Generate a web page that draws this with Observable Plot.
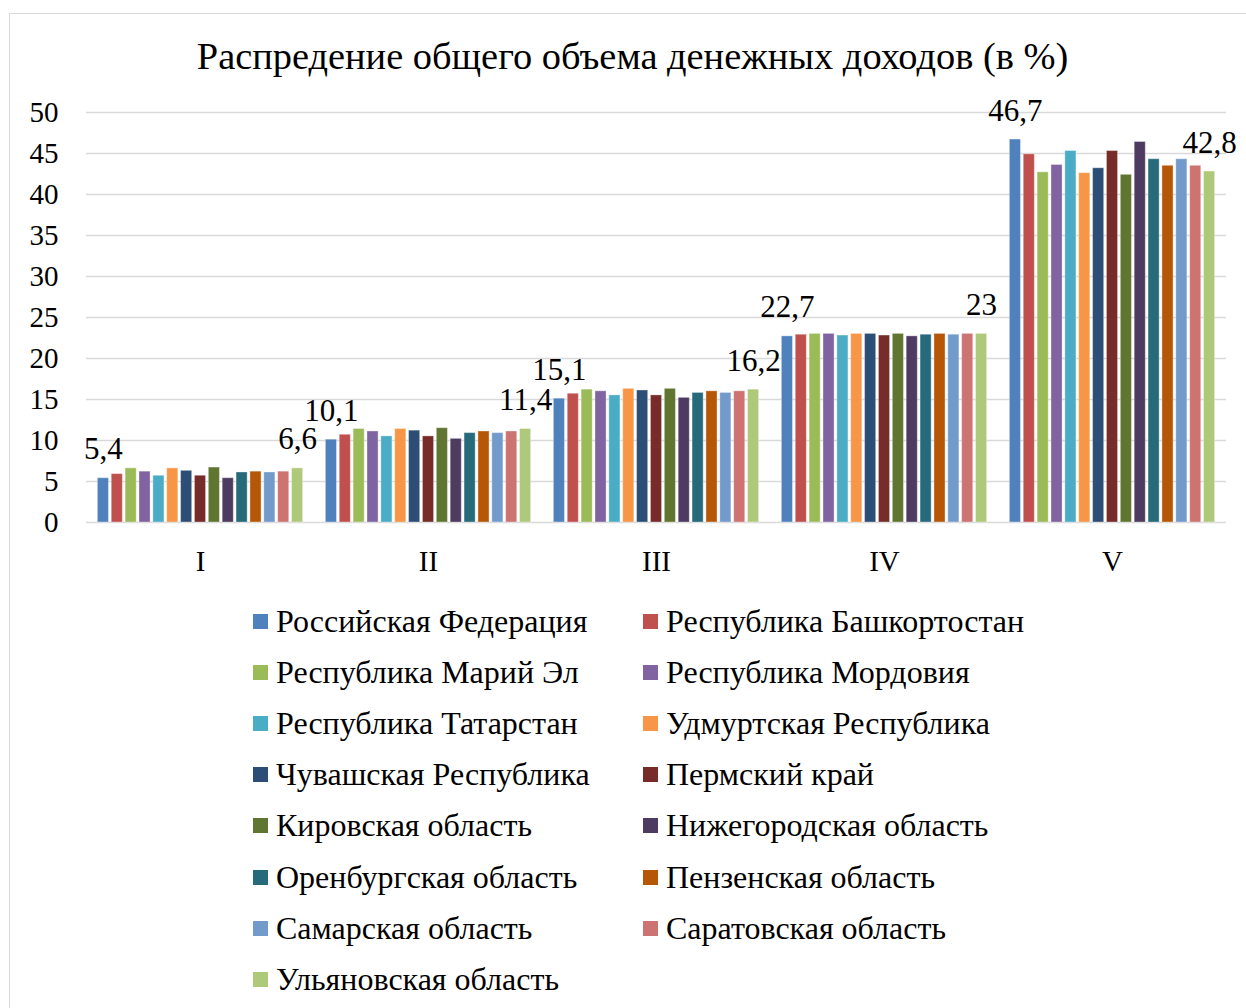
<!DOCTYPE html>
<html>
<head>
<meta charset="utf-8">
<script src="https://cdn.jsdelivr.net/npm/d3@7"></script>
<script src="https://cdn.jsdelivr.net/npm/@observablehq/plot@0.6"></script>
<style>
  html, body { margin: 0; padding: 0; background: #fff; }
  body { width: 1246px; height: 1008px; position: relative; overflow: hidden; font-family: "Liberation Serif", "Times New Roman", serif; }
  #frame { position: absolute; left: 9px; top: 13px; width: 1240px; height: 1010px; border: 1.5px solid #d9d9d9; box-sizing: border-box; }
  #title { position: absolute; left: 0; width: 1265px; top: 34px; text-align: center; font-size: 38.4px; color: #000; white-space: nowrap; }
  #chart { position: absolute; left: 0; top: 0; }
  #legend { position: absolute; left: 0; top: 0; }
  .li { position: absolute; font-size: 32px; color: #000; white-space: nowrap; display: flex; align-items: center; }
  .sw { width: 15px; height: 15px; margin-right: 8px; }
</style>
</head>
<body>
<div id="frame"></div>
<div id="title">Распредение общего объема денежных доходов (в %)</div>
<div id="chart"></div>
<div id="legend"></div>
<script>
const groups = ["I", "II", "III", "IV", "V"];
const regions = [
  "Российская Федерация", "Республика Башкортостан", "Республика Марий Эл", "Республика Мордовия",
  "Республика Татарстан", "Удмуртская Республика", "Чувашская Республика", "Пермский край",
  "Кировская область", "Нижегородская область", "Оренбургская область", "Пензенская область",
  "Самарская область", "Саратовская область", "Ульяновская область"
];
const colors = [
  "#4F81BD", "#C0504D", "#9BBB59", "#8064A2", "#4BACC6", "#F79646", "#2C4D75", "#772C2A",
  "#5F7530", "#4D3B62", "#276A7C", "#B65708", "#729ACA", "#CD7371", "#AFC97A"
];
// values per quintile group, in region order
const valuesI   = [5.4, 5.9, 6.6, 6.2, 5.7, 6.6, 6.3, 5.7, 6.7, 5.4, 6.1, 6.2, 6.1, 6.2, 6.6];
const valuesII  = [10.1, 10.7, 11.4, 11.1, 10.5, 11.4, 11.2, 10.5, 11.5, 10.2, 10.9, 11.1, 10.9, 11.1, 11.4];
const valuesIII = [15.1, 15.7, 16.2, 16.0, 15.5, 16.3, 16.1, 15.5, 16.3, 15.2, 15.8, 16.0, 15.8, 16.0, 16.2];
const valuesIV  = [22.7, 22.9, 23.0, 23.0, 22.8, 23.0, 23.0, 22.8, 23.0, 22.7, 22.9, 23.0, 22.9, 23.0, 23.0];
const valuesV   = [46.7, 44.9, 42.7, 43.6, 45.3, 42.6, 43.2, 45.3, 42.4, 46.4, 44.3, 43.5, 44.3, 43.5, 42.8];
const yTicks = [0, 5, 10, 15, 20, 25, 30, 35, 40, 45, 50];
const labeledRegions = ["Российская Федерация", "Ульяновская область"];

const allValues = [valuesI, valuesII, valuesIII, valuesIV, valuesV];
const data = [];
groups.forEach((g, gi) => {
  regions.forEach((r, ri) => data.push({group: g, region: r, value: allValues[gi][ri]}));
});
const labelData = data.filter(d => labeledRegions.includes(d.region));
const fmt = v => String(v).replace(".", ",");

const font = "Liberation Serif, Times New Roman, serif";
const plot = Plot.plot({
  width: 1246,
  height: 590,
  marginTop: 112,
  marginBottom: 68,
  marginLeft: 86,
  marginRight: 20,
  style: {fontFamily: font, fontSize: "29px", color: "#000", background: "transparent", overflow: "visible"},
  fx: {domain: groups, padding: 0, round: false, label: null, axis: "bottom", tickSize: 0, tickPadding: 28},
  x: {domain: regions, paddingInner: 0.2, paddingOuter: 0.82, round: false, axis: null},
  y: {domain: [0, 50], ticks: yTicks, tickSize: 0, tickPadding: 28, label: null, tickFormat: d => String(d)},
  color: {domain: regions, range: colors},
  marks: [
    Plot.ruleY(yTicks, {stroke: "#d9d9d9", strokeWidth: 1.5}),
    Plot.barY(data, {fx: "group", x: "region", y: "value", fill: "region", stroke: "#ffffff", strokeOpacity: 0.35, strokeWidth: 1}),
    Plot.text(labelData, {fx: "group", x: "region", y: "value", text: d => fmt(d.value), lineAnchor: "bottom", dy: -19, fontSize: 31, fill: "#000"})
  ]
});
document.getElementById("chart").appendChild(plot);

const legend = document.getElementById("legend");
regions.forEach((r, i) => {
  const col = i % 2, row = Math.floor(i / 2);
  const el = document.createElement("div");
  el.className = "li";
  el.style.left = (col === 0 ? 253 : 643) + "px";
  el.style.top = (621 + row * 51.2 - 18) + "px";
  el.style.height = "36px";
  const sw = document.createElement("div");
  sw.className = "sw";
  sw.style.background = colors[i];
  el.appendChild(sw);
  const t = document.createElement("span");
  t.textContent = r;
  el.appendChild(t);
  legend.appendChild(el);
});
</script>
</body>
</html>
